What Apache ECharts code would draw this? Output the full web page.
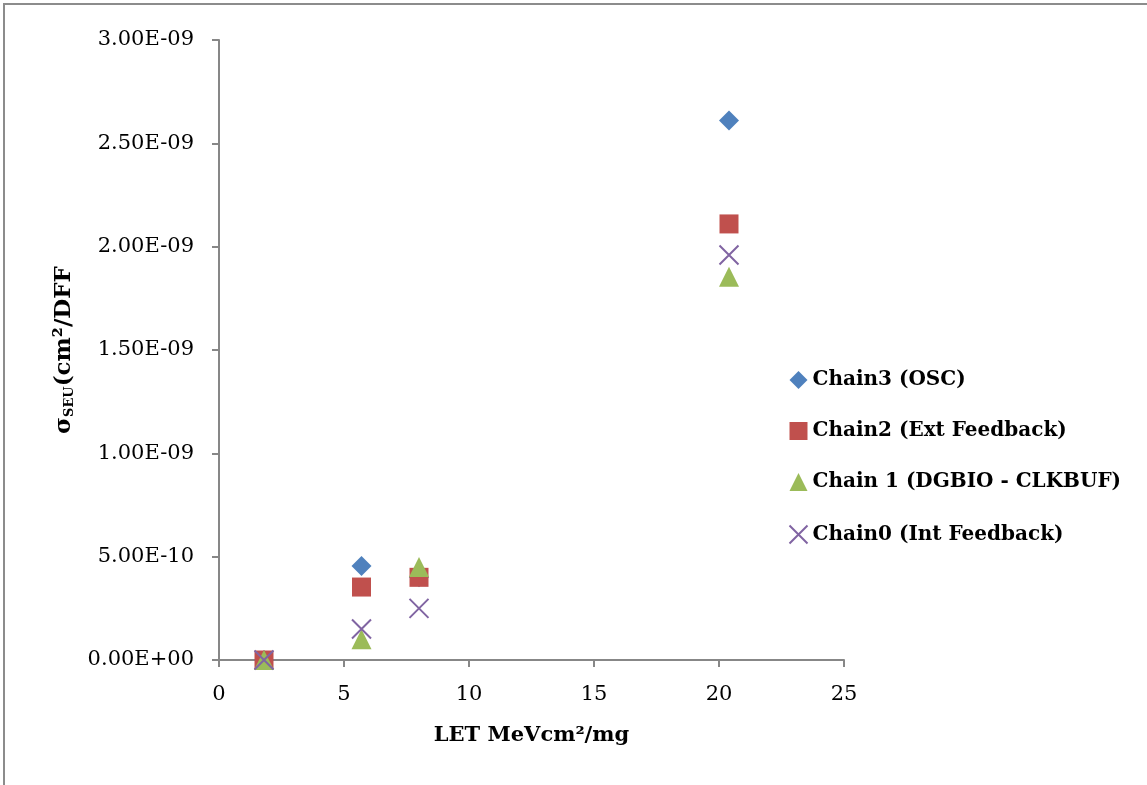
<!DOCTYPE html>
<html>
<head>
<meta charset="utf-8">
<script src="https://cdn.jsdelivr.net/npm/echarts@6/dist/echarts.min.js"></script>
<style>
  html, body { margin: 0; padding: 0; background: #fff; }
  #chart { width: 1147px; height: 785px; }
</style>
</head>
<body>
<div id="chart"></div>
<script>
// LET values (MeV cm2/mg)
const letValues = [1.8, 5.7, 8.0, 20.4]

// cross sections per series (cm2/DFF)
const chain3Osc = [0, 4.55e-10, 4.0e-10, 2.61e-9]
const chain2Ext = [0, 3.53e-10, 4.0e-10, 2.11e-9]
const chain1Dgbio = [0, 1.0e-10, 4.5e-10, 1.855e-9]
const chain0Int = [0, 1.5e-10, 2.5e-10, 1.96e-9]

const seriesNames = ["Chain3 (OSC)", "Chain2 (Ext Feedback)", "Chain 1 (DGBIO - CLKBUF)", "Chain0 (Int Feedback)"]

const pairs = (ys) => letValues.map((x, i) => [x, ys[i]])

const serif = "DejaVu Serif"
const axisGray = "#878787"

const chart = echarts.init(document.getElementById("chart"))

const option = {
  backgroundColor: "#fff",
  animation: false,
  graphic: [
    {
      type: "rect",
      shape: { x: 4, y: 4, width: 1200, height: 900 },
      style: { fill: "none", stroke: "#8c8c8c", lineWidth: 2 },
      silent: true
    }
  ],
  grid: {
    left: 219,
    right: 303,
    top: 40,
    bottom: 125
  },
  legend: {
    orient: "vertical",
    left: 782,
    top: 365,
    itemGap: 31,
    itemWidth: 18,
    itemHeight: 18,
    textStyle: {
      fontFamily: serif,
      fontWeight: "bold",
      fontSize: 20,
      color: "#000"
    },
    data: seriesNames
  },
  xAxis: {
    type: "value",
    min: 0,
    max: 25,
    interval: 5,
    name: "LET MeVcm²/mg",
    nameLocation: "middle",
    nameGap: 65,
    nameTextStyle: {
      fontFamily: serif,
      fontWeight: "bold",
      fontSize: 21,
      color: "#000"
    },
    axisLine: { lineStyle: { color: axisGray, width: 2 } },
    axisTick: { show: true, length: 7, lineStyle: { color: axisGray, width: 2 } },
    axisLabel: {
      fontFamily: serif,
      fontSize: 21,
      color: "#000",
      margin: 24
    },
    splitLine: { show: false }
  },
  yAxis: {
    type: "value",
    min: 0,
    max: 3e-9,
    interval: 5e-10,
    name: "{s|σ}{sub|SEU}{s|(cm²/DFF}",
    nameLocation: "middle",
    nameGap: 143,
    nameRotate: 90,
    nameTextStyle: {
      rich: {
        s: { fontFamily: serif, fontWeight: "bold", fontSize: 23, color: "#000", verticalAlign: "bottom", lineHeight: 28 },
        sub: { fontFamily: serif, fontWeight: "bold", fontSize: 13, color: "#000", verticalAlign: "bottom", lineHeight: 22 }
      }
    },
    axisLine: { show: true, lineStyle: { color: axisGray, width: 2 } },
    axisTick: { show: true, length: 7, lineStyle: { color: axisGray, width: 2 } },
    axisLabel: {
      fontFamily: serif,
      fontSize: 21,
      color: "#000",
      margin: 25,
      formatter: (v) => {
        if (v === 0) return "0.00E+00"
        return v.toExponential(2).replace(/e-(\d)$/, "E-0$1").replace(/e-(\d\d)$/, "E-$1")
      }
    },
    splitLine: { show: false }
  },
  series: [
    {
      name: seriesNames[0],
      type: "scatter",
      symbol: "diamond",
      symbolSize: [20, 20],
      itemStyle: { color: "#4F81BD", opacity: 1 },
      data: pairs(chain3Osc)
    },
    {
      name: seriesNames[1],
      type: "scatter",
      symbol: "rect",
      symbolSize: 19,
      itemStyle: { color: "#C0504D", opacity: 1 },
      data: pairs(chain2Ext)
    },
    {
      name: seriesNames[2],
      type: "scatter",
      symbol: "triangle",
      symbolSize: [20, 20],
      itemStyle: { color: "#9BBB59", opacity: 1 },
      data: pairs(chain1Dgbio)
    },
    {
      name: seriesNames[3],
      type: "scatter",
      symbol: "path://M0,0L10,10M10,0L0,10",
      symbolSize: 19,
      itemStyle: { color: "none", borderColor: "#8064A2", borderWidth: 2, opacity: 1 },
      data: pairs(chain0Int)
    }
  ]
}

chart.setOption(option)
</script>
</body>
</html>
